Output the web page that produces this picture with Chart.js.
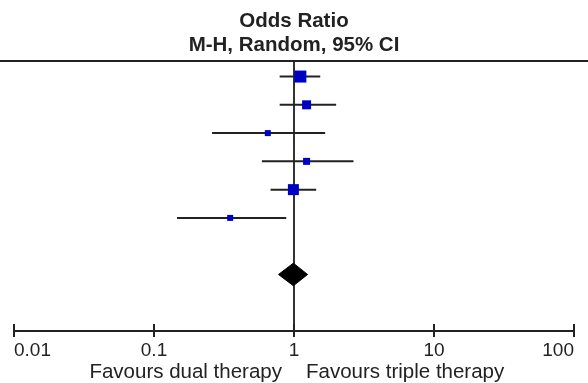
<!DOCTYPE html>
<html><head><meta charset="utf-8">
<script src="https://cdn.jsdelivr.net/npm/chart.js@4.4.1/dist/chart.umd.min.js"></script>
<style>html,body{margin:0;padding:0;background:#fff;overflow:hidden}#wrap{width:588px;height:383px}</style>
</head><body><div id="wrap"><canvas id="c" width="588" height="383"></canvas></div>
<script>
// ---- data ----
const studies = ['Study 1','Study 2','Study 3','Study 4','Study 5','Study 6'];
const oddsRatio = [1.11, 1.23, 0.65, 1.23, 0.99, 0.35];
const ciLower  = [0.79, 0.79, 0.26, 0.59, 0.68, 0.146];
const ciUpper  = [1.54, 2.00, 1.67, 2.66, 1.44, 0.88];
const weights  = [30.8, 17.3, 7.7, 10.5, 25.9, 7.7];
const pooledOR = 0.99, pooledLower = 0.775, pooledUpper = 1.25;
const tickValues = [0.01, 0.1, 1, 10, 100];
const tickLabels = ['0.01','0.1','1','10','100'];
const titleLines = ['Odds Ratio','M-H, Random, 95% CI'];
const favourLabels = ['Favours dual therapy','Favours triple therapy'];

// ---- styling ----
const FONT = "'Liberation Sans', Arial, sans-serif";
const INK = '#222';
const BLUE = '#0000c4';
const pooledRow = studies.length + 2;
const diamondHalf = 0.4;
const maxSide = 12;
const maxW = Math.max(...weights);

const datasets = [];
studies.forEach((s, i) => {
  datasets.push({
    label: s + ' CI', data: [{x: ciLower[i], y: i + 1}, {x: ciUpper[i], y: i + 1}],
    showLine: true, pointRadius: 0, borderColor: INK, borderWidth: 2, order: 2
  });
});
datasets.push({
  label: 'markers',
  data: studies.map((s, i) => ({x: oddsRatio[i], y: i + 1})),
  pointStyle: 'rect',
  pointRadius: weights.map(w => (maxSide * Math.sqrt(w / maxW)) / 2 / Math.SQRT1_2),
  backgroundColor: BLUE, borderWidth: 0, order: 0
});
datasets.push({
  label: 'pooled',
  data: [{x: pooledLower, y: pooledRow}, {x: pooledOR, y: pooledRow - diamondHalf},
         {x: pooledUpper, y: pooledRow}, {x: pooledOR, y: pooledRow + diamondHalf},
         {x: pooledLower, y: pooledRow}],
  showLine: true, fill: 'shape', pointRadius: 0, borderColor: '#000', backgroundColor: '#000',
  borderWidth: 1, tension: 0, order: 1
});
datasets.push({
  label: 'no effect', data: [{x: 1, y: 0.45}, {x: 1, y: 10}],
  showLine: true, pointRadius: 0, borderColor: '#333', borderWidth: 2, order: 3
});

const deco = {
  id: 'deco',
  afterDraw(chart) {
    const ctx = chart.ctx, a = chart.chartArea, xs = chart.scales.x;
    ctx.save();
    ctx.strokeStyle = INK; ctx.lineWidth = 2;
    ctx.beginPath(); ctx.moveTo(0, a.top); ctx.lineTo(chart.width, a.top); ctx.stroke();
    tickValues.forEach(v => {
      const x = Math.round(xs.getPixelForValue(v));
      ctx.beginPath(); ctx.moveTo(x, a.bottom - 7); ctx.lineTo(x, a.bottom); ctx.stroke();
    });
    const x1 = xs.getPixelForValue(1);
    ctx.fillStyle = INK; ctx.font = '20.5px ' + FONT; ctx.textBaseline = 'alphabetic';
    ctx.textAlign = 'right'; ctx.fillText(favourLabels[0], x1 - 12, 378);
    ctx.textAlign = 'left'; ctx.fillText(favourLabels[1], x1 + 12, 378);
    ctx.restore();
  }
};

new Chart(document.getElementById('c'), {
  type: 'scatter',
  data: {datasets},
  plugins: [deco],
  options: {
    responsive: false, animation: false, devicePixelRatio: 1,
    layout: {padding: {left: 14, right: 14, top: 0, bottom: 0}},
    plugins: {
      legend: {display: false}, tooltip: {enabled: false},
      title: {display: true, text: titleLines, color: INK,
        font: {family: FONT, size: 20.5, weight: 'bold', lineHeight: 1.15},
        padding: {top: 9.5, bottom: 4.35}}
    },
    scales: {
      x: {
        type: 'logarithmic', min: 0.01, max: 100, position: 'bottom',
        afterBuildTicks: s => { s.ticks = tickValues.map(v => ({value: v})); },
        afterFit: s => { s.height = 52; },
        ticks: {callback: (v, i) => tickLabels[i], align: 'inner', padding: 2, autoSkip: false,
          maxRotation: 0, color: INK, font: {family: FONT, size: 19}},
        grid: {drawOnChartArea: false, drawTicks: true, tickLength: 6, color: INK, lineWidth: 2},
        border: {display: true, color: INK, width: 2}
      },
      y: {type: 'linear', min: 0.45, max: 10, reverse: true, display: false}
    }
  }
});
</script></body></html>
